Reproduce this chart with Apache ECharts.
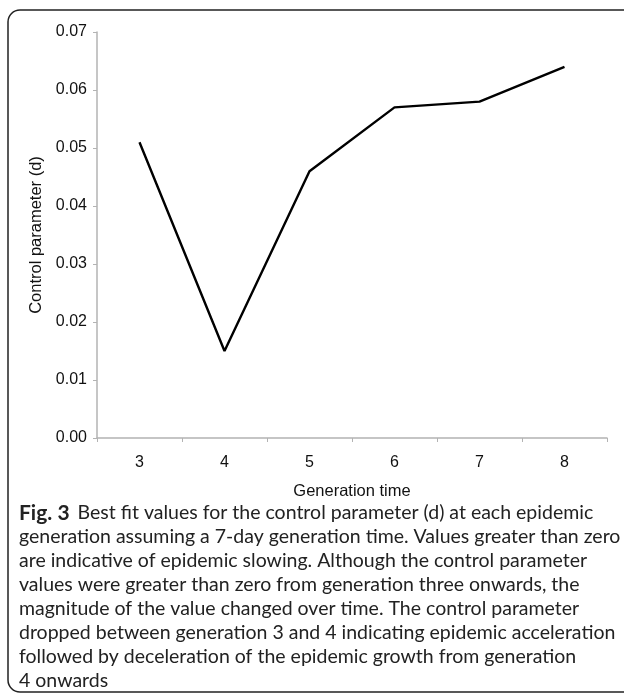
<!DOCTYPE html>
<html>
<head>
<meta charset="utf-8">
<script src="https://cdn.jsdelivr.net/npm/echarts@6/dist/echarts.min.js"></script>
<style>
  html, body { margin: 0; padding: 0; background: #fff; }
  #chart { width: 624px; height: 697px; }
</style>
</head>
<body>
<div id="chart"></div>
<script>
// Generation numbers and fitted control parameter (d)
var generations = ['3', '4', '5', '6', '7', '8'];
var controlParam = [0.051, 0.015, 0.046, 0.057, 0.058, 0.064];

var xAxisName = 'Generation time';
var yAxisName = 'Control parameter (d)';

var captionLines = [
    '{b|Fig. 3}Best fit values for the control parameter (d) at each epidemic',
    'generation assuming a 7-day generation time. Values greater than zero',
    'are indicative of epidemic slowing. Although the control parameter',
    'values were greater than zero from generation three onwards, the',
    'magnitude of the value changed over time. The control parameter',
    'dropped between generation 3 and 4 indicating epidemic acceleration',
    'followed by deceleration of the epidemic growth from generation',
    '4 onwards'
];

var chart = echarts.init(document.getElementById('chart'));

var axisFont = 'Liberation Sans, Arial, sans-serif';
var captionFont = 'Lato, sans-serif';

chart.setOption({
    animation: false,
    grid: {
        left: 97,
        right: 17,
        top: 32,
        bottom: 259
    },
    title: {
        left: 19,
        top: 501,
        padding: 0,
        text: captionLines.join('\n'),
        textStyle: {
            fontFamily: captionFont,
            fontSize: 19.5,
            fontWeight: 'normal',
            color: '#222',
            lineHeight: 24,
            rich: {
                b: {
                    fontFamily: captionFont,
                    fontSize: 21,
                    fontWeight: 'bold',
                    color: '#222',
                    lineHeight: 24,
                    padding: [0, 8, 0, 0]
                }
            }
        }
    },
    xAxis: {
        type: 'category',
        data: generations,
        boundaryGap: true,
        name: xAxisName,
        nameLocation: 'middle',
        nameGap: 45,
        nameTextStyle: { fontFamily: axisFont, fontSize: 16.5, color: '#111' },
        axisLine: { lineStyle: { color: '#b3b3b3', width: 1.5 } },
        axisTick: { show: true, length: 4, lineStyle: { color: '#b3b3b3' } },
        axisLabel: { fontFamily: axisFont, fontSize: 16, color: '#111', margin: 17 }
    },
    yAxis: {
        type: 'value',
        min: 0,
        max: 0.07,
        interval: 0.01,
        name: yAxisName,
        nameLocation: 'middle',
        nameGap: 47,
        nameTextStyle: { fontFamily: axisFont, fontSize: 16.5, color: '#111' },
        axisLine: { show: true, lineStyle: { color: '#b3b3b3', width: 1.5 } },
        axisTick: { show: true, length: 4, lineStyle: { color: '#b3b3b3' } },
        splitLine: { show: false },
        axisLabel: {
            fontFamily: axisFont,
            fontSize: 16,
            color: '#111',
            margin: 10,
            formatter: function (v) { return v.toFixed(2); }
        }
    },
    series: [
        {
            type: 'line',
            data: controlParam,
            symbol: 'none',
            lineStyle: { color: '#000', width: 2.4 }
        }
    ],
    graphic: [
        {
            // rounded frame around the whole figure
            type: 'rect',
            silent: true,
            shape: { x: 8, y: 10, width: 640, height: 682, r: 12 },
            style: { fill: 'none', stroke: '#222', lineWidth: 1.5 }
        }
    ]
});
</script>
</body>
</html>
